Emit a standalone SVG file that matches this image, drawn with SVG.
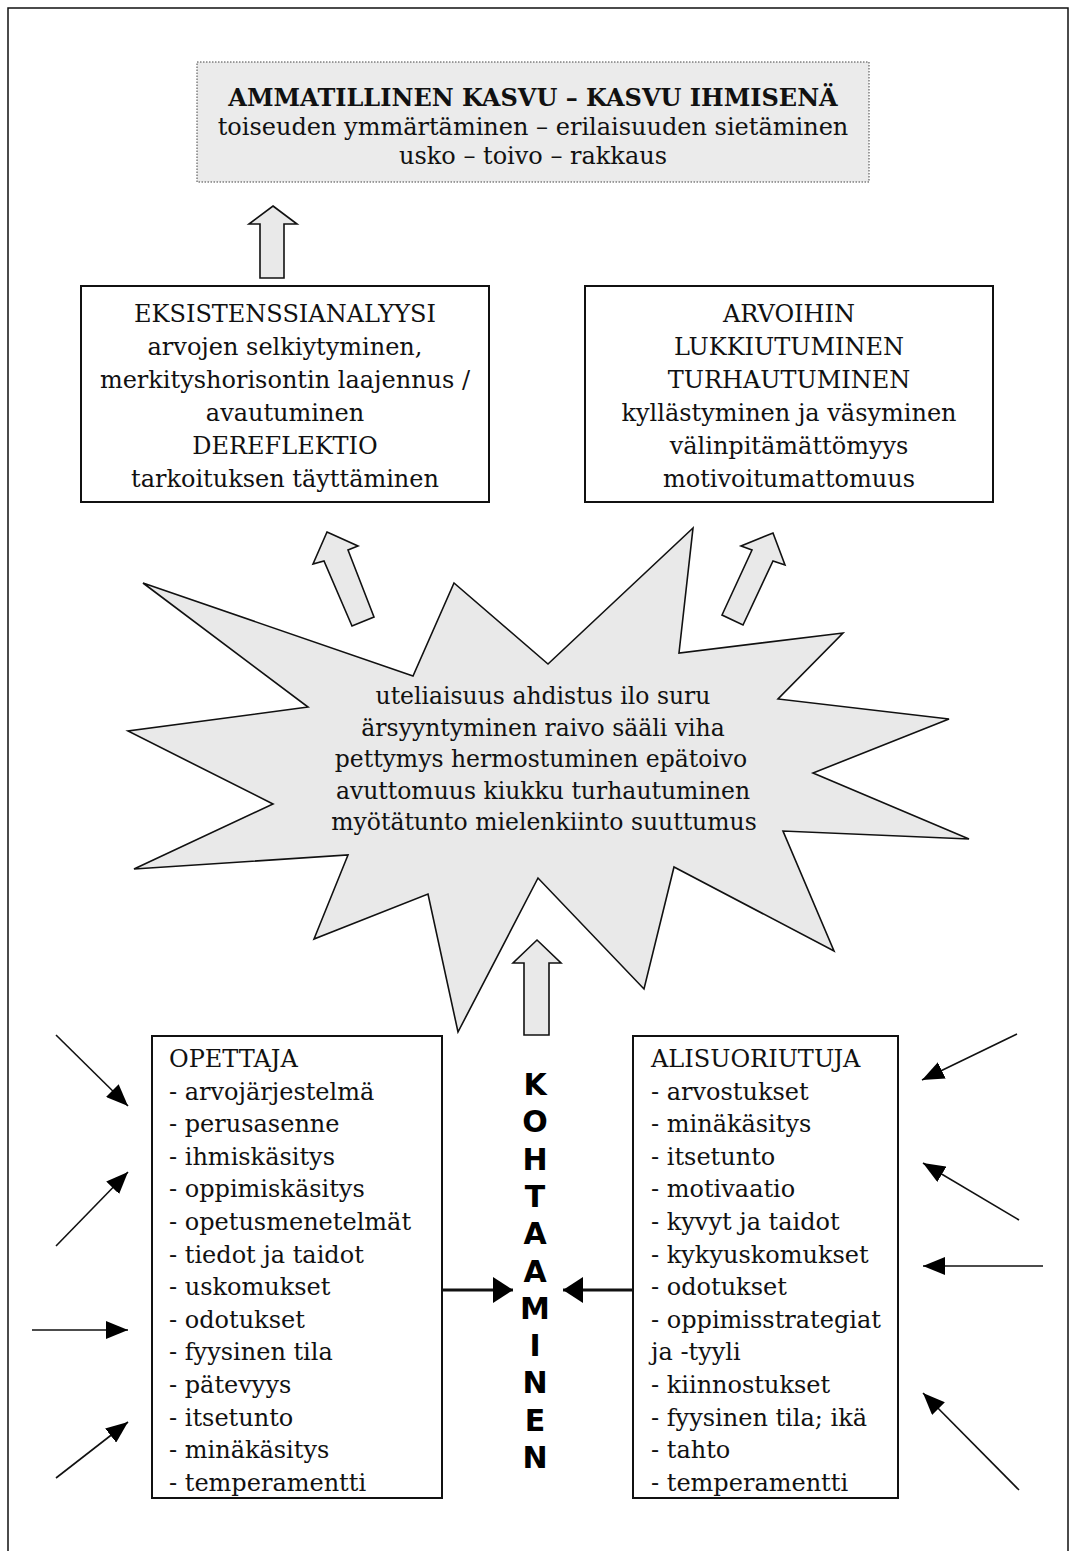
<svg xmlns="http://www.w3.org/2000/svg" width="1075" height="1551" viewBox="0 0 1075 1551">
  <style>
    .t { font-family: "DejaVu Serif", "Liberation Serif", serif; font-size: 24px; fill: #111; }
    .c { text-anchor: middle; }
    .b { font-weight: bold; }
    .box { fill: #fff; stroke: #111; stroke-width: 2; }
    .block { fill: #e9e9e9; stroke: #111; stroke-width: 1.6; stroke-linejoin: miter; }
    .thin { stroke: #111; stroke-width: 1.6; fill: none; marker-end: url(#thinHead); }
    .bold { stroke: #111; stroke-width: 3.2; fill: none; marker-end: url(#boldHead); }
    .meet { font-family: "DejaVu Sans", "Liberation Sans", sans-serif; font-weight: 900; font-size: 30px; fill: #000; text-anchor: middle; }
  </style>
  <defs>
    <marker id="thinHead" viewBox="0 0 22 18" refX="22" refY="9" markerWidth="22" markerHeight="18" markerUnits="userSpaceOnUse" orient="auto">
      <path d="M0,0 L22,9 L0,18 Z" fill="#000"/>
    </marker>
    <marker id="boldHead" viewBox="0 0 20 26" refX="20" refY="13" markerWidth="20" markerHeight="26" markerUnits="userSpaceOnUse" orient="auto">
      <path d="M0,0 L20,13 L0,26 Z" fill="#000"/>
    </marker>
  </defs>

  <rect width="1075" height="1551" fill="#fff"/>
  <!-- page frame -->
  <path d="M8,1551 L8,8 L1068,8 L1068,1551" fill="none" stroke="#111" stroke-width="1.5"/>

  <!-- goal -->
  <g id="growth">
    <rect x="197" y="62" width="672" height="120" fill="#ebebeb" stroke="#444" stroke-width="1" stroke-dasharray="1.5 1.5"/>
    <text class="t c b" x="533" y="106">AMMATILLINEN KASVU – KASVU IHMISENÄ</text>
    <text class="t c" x="533" y="135">toiseuden ymmärtäminen – erilaisuuden sietäminen</text>
    <text class="t c" x="533" y="164">usko – toivo – rakkaus</text>
  </g>

  <g id="existential">
    <rect class="box" x="81" y="286" width="408" height="216"/>
    <text class="t c" x="285" y="322">EKSISTENSSIANALYYSI</text>
    <text class="t c" x="285" y="355">arvojen selkiytyminen,</text>
    <text class="t c" x="285" y="388">merkityshorisontin laajennus /</text>
    <text class="t c" x="285" y="421">avautuminen</text>
    <text class="t c" x="285" y="454">DEREFLEKTIO</text>
    <text class="t c" x="285" y="487">tarkoituksen täyttäminen</text>
  </g>

  <g id="locked">
    <rect class="box" x="585" y="286" width="408" height="216"/>
    <text class="t c" x="789" y="322">ARVOIHIN</text>
    <text class="t c" x="789" y="355">LUKKIUTUMINEN</text>
    <text class="t c" x="789" y="388">TURHAUTUMINEN</text>
    <text class="t c" x="789" y="421">kyllästyminen ja väsyminen</text>
    <text class="t c" x="789" y="454">välinpitämättömyys</text>
    <text class="t c" x="789" y="487">motivoitumattomuus</text>
  </g>

  <g id="emotions">
    <polygon class="block" points="143,583 413,676 454,583 548,664 693,528 679,653 843,633 778,699 949,719 813,773 969,839 783,831 834,951 674,867 644,989 538,878 458,1032 428,894 314,939 348,855 134,869 273,804 128,731 308,707"/>
    <text class="t c" x="543" y="704" style="font-size:23.5px">uteliaisuus ahdistus ilo suru</text>
    <text class="t c" x="543" y="735.5" style="font-size:23.5px">ärsyyntyminen raivo sääli viha</text>
    <text class="t c" x="541" y="767" style="font-size:23.5px">pettymys hermostuminen epätoivo</text>
    <text class="t c" x="543" y="798.5" style="font-size:23.5px">avuttomuus kiukku turhautuminen</text>
    <text class="t c" x="544" y="830" style="font-size:23.5px">myötätunto mielenkiinto suuttumus</text>
  </g>

  <g id="teacher">
    <rect class="box" x="152" y="1036" width="290" height="462"/>
    <text class="t" x="169" y="1067">OPETTAJA</text>
    <text class="t" x="169" y="1099.6">- arvojärjestelmä</text>
    <text class="t" x="169" y="1132.2">- perusasenne</text>
    <text class="t" x="169" y="1164.8">- ihmiskäsitys</text>
    <text class="t" x="169" y="1197.4">- oppimiskäsitys</text>
    <text class="t" x="169" y="1230">- opetusmenetelmät</text>
    <text class="t" x="169" y="1262.6">- tiedot ja taidot</text>
    <text class="t" x="169" y="1295.2">- uskomukset</text>
    <text class="t" x="169" y="1327.8">- odotukset</text>
    <text class="t" x="169" y="1360.4">- fyysinen tila</text>
    <text class="t" x="169" y="1393">- pätevyys</text>
    <text class="t" x="169" y="1425.6">- itsetunto</text>
    <text class="t" x="169" y="1458.2">- minäkäsitys</text>
    <text class="t" x="169" y="1490.8">- temperamentti</text>
  </g>

  <g id="underachiever">
    <rect class="box" x="633" y="1036" width="265" height="462"/>
    <text class="t" x="651" y="1067">ALISUORIUTUJA</text>
    <text class="t" x="651" y="1099.6">- arvostukset</text>
    <text class="t" x="651" y="1132.2">- minäkäsitys</text>
    <text class="t" x="651" y="1164.8">- itsetunto</text>
    <text class="t" x="651" y="1197.4">- motivaatio</text>
    <text class="t" x="651" y="1230">- kyvyt ja taidot</text>
    <text class="t" x="651" y="1262.6">- kykyuskomukset</text>
    <text class="t" x="651" y="1295.2">- odotukset</text>
    <text class="t" x="651" y="1327.8">- oppimisstrategiat</text>
    <text class="t" x="651" y="1360.4">ja -tyyli</text>
    <text class="t" x="651" y="1393">- kiinnostukset</text>
    <text class="t" x="651" y="1425.6">- fyysinen tila; ikä</text>
    <text class="t" x="651" y="1458.2">- tahto</text>
    <text class="t" x="651" y="1490.8">- temperamentti</text>
  </g>

  <g id="encounter">
    <text class="meet" x="535" y="1095">K</text>
    <text class="meet" x="535" y="1132.3">O</text>
    <text class="meet" x="535" y="1169.6">H</text>
    <text class="meet" x="535" y="1206.9">T</text>
    <text class="meet" x="535" y="1244.2">A</text>
    <text class="meet" x="535" y="1281.5">A</text>
    <text class="meet" x="535" y="1318.8">M</text>
    <text class="meet" x="535" y="1356.1">I</text>
    <text class="meet" x="535" y="1393.4">N</text>
    <text class="meet" x="535" y="1430.7">E</text>
    <text class="meet" x="535" y="1468">N</text>
  </g>

  <g id="connectors">
    <!-- block arrows -->
    <polygon class="block" points="273,206 297,224 284,224 284,278 260,278 260,224 249,224"/>
    <polygon class="block" points="327,532 358,546 348,550 374,617 352,626 324,561 313,564"/>
    <polygon class="block" points="773,533 785,565 773,561 743,625 722,615 752,550 741,546"/>
    <polygon class="block" points="537,940 561,963 549,963 549,1035 524,1035 524,963 513,963"/>
    <!-- boxes toward the encounter -->
    <line class="bold" x1="442" y1="1290" x2="513" y2="1290"/>
    <line class="bold" x1="633" y1="1290" x2="563" y2="1290"/>
    <!-- outside influences -->
    <line class="thin" x1="56" y1="1035" x2="128" y2="1106"/>
    <line class="thin" x1="56" y1="1246" x2="128" y2="1172"/>
    <line class="thin" x1="32" y1="1330" x2="128" y2="1330"/>
    <line class="thin" x1="56" y1="1478" x2="128" y2="1422"/>
    <line class="thin" x1="1017" y1="1034" x2="922" y2="1080"/>
    <line class="thin" x1="1019" y1="1220" x2="923" y2="1163"/>
    <line class="thin" x1="1043" y1="1266" x2="923" y2="1266"/>
    <line class="thin" x1="1019" y1="1490" x2="923" y2="1393"/>
  </g>
</svg>
